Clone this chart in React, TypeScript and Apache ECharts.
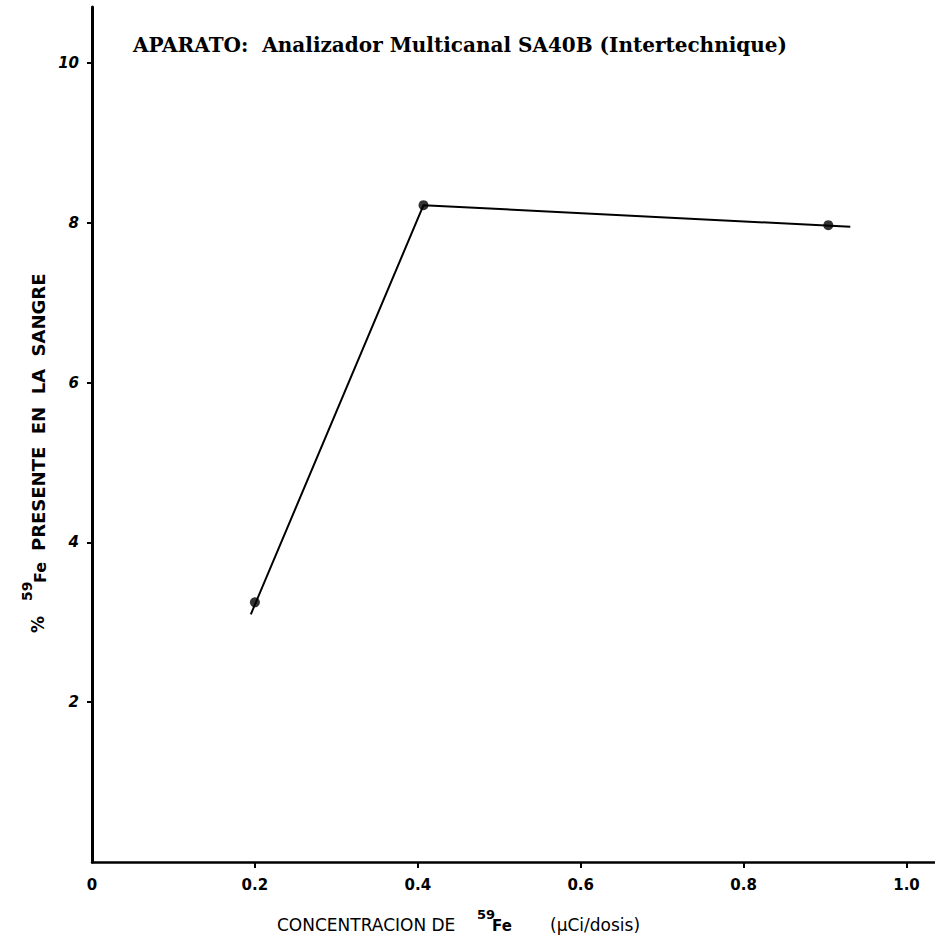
import React, { useEffect, useRef } from "react";
import * as echarts from "echarts";

// measured points (concentration µCi/dosis, % 59Fe)
const xValues = [0.2, 0.407, 0.904];
const yValues = [3.25, 8.22, 7.97];
// hand-drawn line runs a little past the first and last points
const traceX = [0.195, 0.407, 0.931];
const traceY = [3.1, 8.22, 7.95];
const xTicks = [0, 0.2, 0.4, 0.6, 0.8, 1.0];
const xTickLabels = ["0", "0.2", "0.4", "0.6", "0.8", "1.0"];
const yTicks = [2, 4, 6, 8, 10];

const title = "APARATO:  Analizador Multicanal SA40B (Intertechnique)";

export default function App() {
  const ref = useRef<HTMLDivElement>(null);
  useEffect(() => {
    if (!ref.current) return;
    const chart = echarts.init(ref.current, undefined, { renderer: "svg" });
    const sans = "'DejaVu Sans', sans-serif";
    chart.setOption({
      animation: false,
      backgroundColor: "#ffffff",
      grid: { left: 92, right: 0, top: 7, bottom: 75, containLabel: false },
      xAxis: {
        type: "value",
        min: 0,
        max: 1.035,
        axisLine: { show: true, lineStyle: { color: "#000", width: 2.5 } },
        axisTick: {
          show: true,
          length: 6,
          customValues: xTicks.slice(1),
          lineStyle: { color: "#000", width: 2 },
        },
        axisLabel: {
          customValues: xTicks,
          formatter: (v: number) => {
            const i = xTicks.findIndex((t) => Math.abs(t - v) < 1e-6);
            return i >= 0 ? xTickLabels[i] : "";
          },
          color: "#000",
          fontFamily: sans,
          fontWeight: "bold",
          fontSize: 15,
          margin: 15,
        },
        splitLine: { show: false },
      },
      yAxis: {
        type: "value",
        min: 0,
        max: 10.7,
        axisLine: { show: true, lineStyle: { color: "#000", width: 3 } },
        axisTick: {
          show: true,
          length: 5,
          customValues: yTicks,
          lineStyle: { color: "#000", width: 2 },
        },
        axisLabel: {
          customValues: yTicks,
          color: "#000",
          fontFamily: sans,
          fontWeight: "bold",
          fontStyle: "italic",
          fontSize: 15,
          margin: 13,
        },
        splitLine: { show: false },
      },
      graphic: [
        {
          type: "text",
          x: 133,
          y: 35,
          style: {
            text: title,
            font: "bold 20px 'DejaVu Serif', serif",
            fill: "#000",
          },
        },
        {
          type: "text",
          x: 277,
          y: 916,
          style: { text: "CONCENTRACION DE", font: `17px ${sans}`, fill: "#000" },
        },
        {
          type: "text",
          x: 477,
          y: 908,
          style: { text: "59", font: `bold 13px ${sans}`, fill: "#000" },
        },
        {
          type: "text",
          x: 492,
          y: 918,
          style: { text: "Fe", font: `bold 15px ${sans}`, fill: "#000" },
        },
        {
          type: "text",
          x: 550,
          y: 916,
          style: { text: "(µCi/dosis)", font: `17px ${sans}`, fill: "#000" },
        },
        {
          type: "group",
          x: 29,
          y: 633,
          rotation: Math.PI / 2,
          children: [
            {
              type: "text",
              x: 0,
              y: 0,
              style: { text: "%", font: `bold 17px ${sans}`, fill: "#000" },
            },
            {
              type: "text",
              x: 32,
              y: -9,
              style: { text: "59", font: `bold 14px ${sans}`, fill: "#000" },
            },
            {
              type: "text",
              x: 50,
              y: 3,
              style: { text: "Fe", font: `bold 16px ${sans}`, fill: "#000" },
            },
            {
              type: "text",
              x: 82,
              y: 0,
              style: {
                text: "PRESENTE  EN  LA  SANGRE",
                font: `bold 18px ${sans}`,
                fill: "#000",
              },
            },
          ],
        },
      ],
      series: [
        {
          type: "line",
          data: traceX.map((x, i) => [x, traceY[i]]),
          symbol: "none",
          lineStyle: { color: "#000", width: 2 },
          silent: true,
          z: 2,
        },
        {
          type: "scatter",
          data: xValues.map((x, i) => [x, yValues[i]]),
          symbol: "circle",
          symbolSize: 10,
          itemStyle: { color: "#000" },
          z: 3,
        },
      ],
    });
    return () => chart.dispose();
  }, []);
  return (
    <div
      ref={ref}
      style={{ position: "absolute", left: 0, top: 0, width: 935, height: 937 }}
    />
  );
}
